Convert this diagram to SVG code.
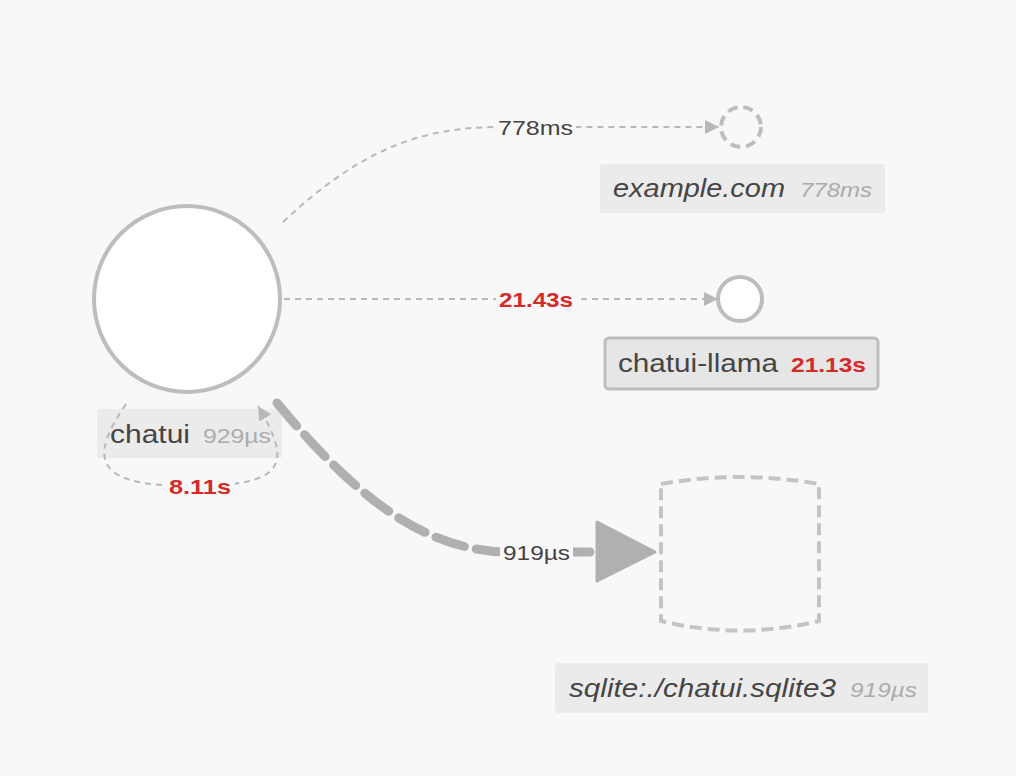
<svg xmlns="http://www.w3.org/2000/svg" width="1016" height="776" viewBox="0 0 1016 776">
<style>
.edge{fill:none;stroke:#b8b8b8;stroke-width:2;stroke-dasharray:6 5}
.thick{fill:none;stroke:#b0b0b0;stroke-width:9;stroke-dasharray:30 12;stroke-linecap:round}
.lbl{font-family:"Liberation Sans",Arial,sans-serif;font-size:21px;fill:#444}
.red{font-family:"Liberation Sans",Arial,sans-serif;font-size:21px;font-weight:bold;fill:#d42a2a}
.name{font-family:"Liberation Sans",Arial,sans-serif;font-size:25px;fill:#454545}
.meta{font-family:"Liberation Sans",Arial,sans-serif;font-size:21px;fill:#ababab}
.it{font-style:italic}
.box{fill:#ebebeb}
.bg{fill:#f8f8f8}
</style>
<defs>
<marker id="arr" viewBox="0 0 14 14" refX="14" refY="7" markerWidth="14" markerHeight="14" markerUnits="userSpaceOnUse" orient="auto">
<path d="M0,0 L14,7 L0,14 Z" fill="#b8b8b8"/>
</marker>
</defs>
<rect width="1016" height="776" fill="#f8f8f8"/>
<g id="node-chatui">
<circle cx="187" cy="299" r="93" fill="#fff" stroke="#bdbdbd" stroke-width="4"/>
<rect class="box" x="97" y="409" width="185" height="49" rx="3"/>
<text class="name" x="110" y="443" textLength="80" lengthAdjust="spacingAndGlyphs">chatui</text>
<text class="meta" x="203" y="443" textLength="68" lengthAdjust="spacingAndGlyphs">929µs</text>
</g>
<g id="node-example">
<circle cx="741" cy="127" r="20" fill="none" stroke="#bdbdbd" stroke-width="4" stroke-dasharray="10 6"/>
<rect class="box" x="600" y="164" width="285" height="49" rx="3"/>
<text class="name it" x="613" y="197" textLength="172" lengthAdjust="spacingAndGlyphs">example.com</text>
<text class="meta it" x="800" y="197" textLength="72" lengthAdjust="spacingAndGlyphs">778ms</text>
</g>
<g id="node-llama">
<circle cx="740" cy="299" r="22" fill="#fff" stroke="#bdbdbd" stroke-width="4"/>
<rect x="605" y="338" width="273" height="51" rx="4" fill="#e6e6e6" stroke="#bdbdbd" stroke-width="3"/>
<text class="name" x="618" y="372" textLength="160" lengthAdjust="spacingAndGlyphs">chatui-llama</text>
<text class="red" x="791" y="372" textLength="75" lengthAdjust="spacingAndGlyphs">21.13s</text>
</g>
<g id="node-sqlite">
<path d="M661 484 Q740 470 819 484 L819 621 Q740 640 661 621 Z" fill="none" stroke="#c4c4c4" stroke-width="4" stroke-dasharray="12 6"/>
<rect class="box" x="555" y="663" width="373" height="50" rx="3"/>
<text class="name it" x="569" y="697" textLength="267" lengthAdjust="spacingAndGlyphs">sqlite:./chatui.sqlite3</text>
<text class="meta it" x="850" y="697" textLength="67" lengthAdjust="spacingAndGlyphs">919µs</text>
</g>
<g id="connectors">
<path class="edge" d="M283 222 C360 150 420 127 500 127 L719 127" marker-end="url(#arr)"/>
<rect class="bg" x="496" y="114" width="80" height="26"/>
<text class="lbl" x="498" y="134.5" textLength="75" lengthAdjust="spacingAndGlyphs">778ms</text>
<path class="edge" d="M284 299 L718 299" marker-end="url(#arr)"/>
<rect class="bg" x="496" y="286" width="80" height="26"/>
<text class="red" x="499" y="306.5" textLength="74" lengthAdjust="spacingAndGlyphs">21.43s</text>
<path class="edge" d="M126 404 C86 462 98 486 190 486 C284 486 294 466 258 406" marker-end="url(#arr)"/>
<rect class="bg" x="165" y="473" width="70" height="26"/>
<text class="red" x="169" y="493.5" textLength="62" lengthAdjust="spacingAndGlyphs">8.11s</text>
<path class="thick" d="M277 403 C350 490 420 552 510 552 L590 552"/>
<rect class="bg" x="500" y="539" width="73" height="26"/>
<text class="lbl" x="503" y="559.5" textLength="67" lengthAdjust="spacingAndGlyphs">919µs</text>
<polygon points="597,522 655,552 597,581" fill="#b0b0b0" stroke="#b0b0b0" stroke-width="3" stroke-linejoin="round"/>
</g>
</svg>
